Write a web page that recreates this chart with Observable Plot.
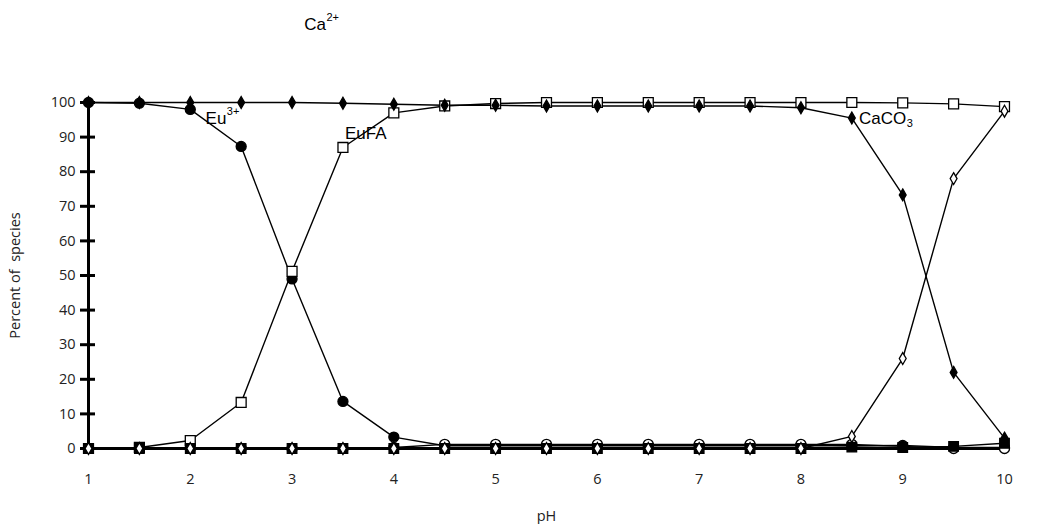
<!DOCTYPE html>
<html>
<head>
<meta charset="utf-8">
<script src="https://cdn.jsdelivr.net/npm/d3@7"></script>
<script src="https://cdn.jsdelivr.net/npm/@observablehq/plot@0.6"></script>
<style>
  html, body { margin: 0; padding: 0; background: #fff; }
  #chart svg { display: block; }
</style>
</head>
<body>
<div id="chart"></div>
<script>
// ---- data ----
const pH = [1, 1.5, 2, 2.5, 3, 3.5, 4, 4.5, 5, 5.5, 6, 6.5, 7, 7.5, 8, 8.5, 9, 9.5, 10];
const eu3  = [100, 99.8, 98, 87.3, 49, 13.6, 3.3, 0.8, 0.8, 0.8, 0.8, 0.8, 0.8, 0.8, 0.8, 0.8, 0.9, 0.3, 0.3];
const euFA = [0, 0.3, 2.3, 13.3, 51.2, 87, 97, 99, 99.7, 100, 100, 100, 100, 100, 100, 100, 99.9, 99.6, 98.8];
const caFA = [0, 0, 0, 0, 0, 0, 0.3, 1.2, 1.2, 1.2, 1.2, 1.2, 1.2, 1.2, 1.2, 1.2, 0.6, 0, 0];
const euCO3 = [0, 0, 0, 0, 0, 0, 0, 0, 0, 0, 0, 0, 0, 0, 0, 0.4, 0.3, 0.6, 1.5];
const ca2  = [100, 100, 100, 100, 100, 99.8, 99.5, 99.2, 99.2, 99, 99, 99, 99, 99, 98.5, 95.5, 73.3, 22, 3];
const caCO3 = [0, 0, 0, 0, 0, 0, 0, 0, 0, 0, 0, 0, 0, 0, 0, 3.5, 26, 78, 97.5];

const xTicks = [1, 2, 3, 4, 5, 6, 7, 8, 9, 10];
const yTicks = [0, 10, 20, 30, 40, 50, 60, 70, 80, 90, 100];

// series labels: base text, superscript/subscript, position (pH, percent)
const labelText = ["Ca", "Eu", "EuFA", "CaCO"];
const labelSup  = ["2+", "3+", "", ""];
const labelSub  = ["", "", "", "3"];
const labelX    = [3.12, 2.15, 3.52, 8.57];
const labelY    = [122.5, 95.5, 91, 95.5];

// ---- build tables ----
const rows = (vals) => pH.map((x, i) => ({x, y: vals[i]}));
const labelFont = "'Liberation Sans', Arial, sans-serif";
const labelSize = 17;
const ctx = document.createElement("canvas").getContext("2d");
ctx.font = `${labelSize}px ${labelFont}`;

const lineOpts = {x: "x", y: "y", stroke: "black", strokeWidth: 1.4};
const series = [
  {vals: eu3,  symbol: "circle",  fill: "black", r: 5},
  {vals: euFA, symbol: "square",  fill: "white", r: 5.6},
  {vals: caFA, symbol: "circle",  fill: "white", r: 5},
  {vals: euCO3, symbol: "square", fill: "black", r: 5.4},
  {vals: ca2,  symbol: "diamond", fill: "black", r: 3.6},
  {vals: caCO3, symbol: "diamond", fill: "white", r: 3.6}
];

const marks = [];
for (const s of series) marks.push(Plot.line(rows(s.vals), lineOpts));
for (const s of series) marks.push(Plot.dot(rows(s.vals), {x: "x", y: "y", symbol: () => s.symbol, fill: s.fill, stroke: "black", strokeWidth: 1.3, r: s.r}));

const labelMarks = [];
labelText.forEach((t, i) => {
  const d = [{x: labelX[i], y: labelY[i]}];
  const w = ctx.measureText(t).width;
  labelMarks.push(Plot.text(d, {x: "x", y: "y", text: () => t, textAnchor: "start", fontSize: labelSize, fill: "black", fontFamily: labelFont}));
  if (labelSup[i]) labelMarks.push(Plot.text(d, {x: "x", y: "y", text: () => labelSup[i], textAnchor: "start", fontSize: 11, dy: -7, dx: w + 0.5, fill: "black", fontFamily: labelFont}));
  if (labelSub[i]) labelMarks.push(Plot.text(d, {x: "x", y: "y", text: () => labelSub[i], textAnchor: "start", fontSize: 11, dy: 5, dx: w + 0.5, fill: "black", fontFamily: labelFont}));
});

const chart = Plot.plot({
  width: 1057,
  height: 524,
  marginLeft: 88,
  marginRight: 53,
  marginTop: 102,
  marginBottom: 76,
  style: {fontFamily: "'Open Sans', sans-serif", fontSize: "14px", color: "#222", background: "#fff"},
  x: {domain: [1, 10]},
  y: {domain: [0, 100]},
  marks: [
    Plot.axisX({ticks: xTicks, tickSize: 0, tickPadding: 25, fontSize: 14.5, label: "pH", labelAnchor: "center", labelOffset: 72, labelArrow: "none"}),
    Plot.axisY({ticks: yTicks, tickSize: 0, tickPadding: 13, fontSize: 14.5, label: "Percent of  species", labelAnchor: "center", labelOffset: 79, labelArrow: "none"}),
    Plot.axisY({ticks: yTicks, text: null, label: null, tickSize: 15, dx: 7, strokeWidth: 3, stroke: "black"}),
    Plot.ruleX([1], {y1: 0, y2: 100, stroke: "black", strokeWidth: 3}),
    Plot.ruleY([0], {x1: 1, x2: 10, stroke: "black", strokeWidth: 3}),
    ...marks,
    ...labelMarks
  ]
});
document.getElementById("chart").appendChild(chart);
</script>
</body>
</html>
